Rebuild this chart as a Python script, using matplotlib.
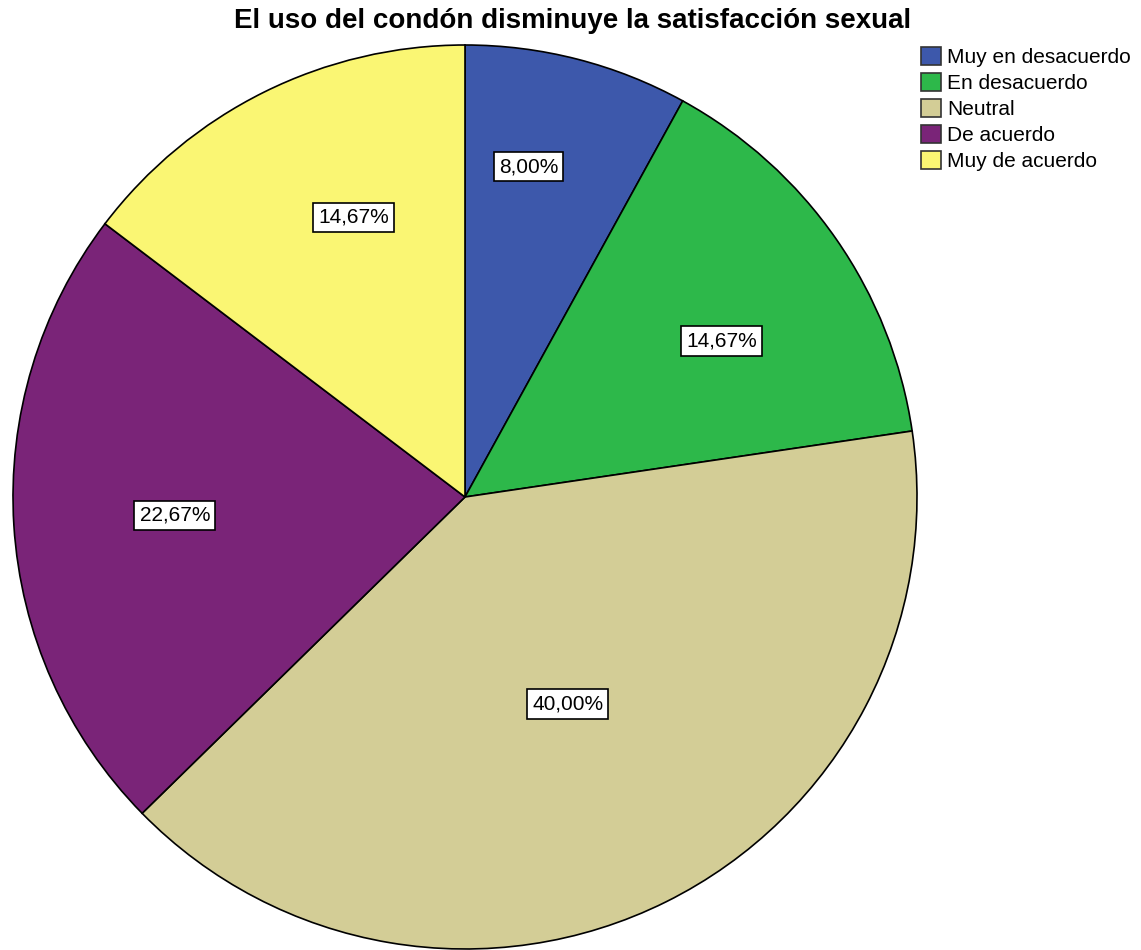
import numpy as np
import matplotlib.pyplot as plt
from matplotlib.patches import Patch

plt.rcParams['font.family'] = ['Liberation Sans', 'DejaVu Sans']

# Respuestas (%)
categorias = ['Muy en desacuerdo', 'En desacuerdo', 'Neutral', 'De acuerdo', 'Muy de acuerdo']
porcentajes = [8.00, 14.67, 40.00, 22.67, 14.67]
colores = ['#3D58AB', '#2DB84A', '#D3CD96', '#7A2478', '#FAF673']

W, H = 1141, 950
fig = plt.figure(figsize=(W / 100, H / 100), dpi=100)
ax = fig.add_axes([0, 0, 1, 1])

cx, cy, r = 465, H - 497, 452
wedges, _ = ax.pie(porcentajes, colors=colores, startangle=90, counterclock=False,
                   center=(cx, cy), radius=r, frame=True,
                   wedgeprops=dict(edgecolor='black', linewidth=1.2))
ax.set_xlim(0, W)
ax.set_ylim(0, H)
ax.set_aspect('equal')
ax.axis('off')

# etiquetas de porcentaje dentro de cada sector
dist = [0.744, 0.665, 0.511, 0.643, 0.666]
giro = [3.5, -3.5, 0.0, 0.0, -4.7]
for w, p, d, g in zip(wedges, porcentajes, dist, giro):
    ang = np.deg2rad((w.theta1 + w.theta2) / 2 + g)
    x = cx + d * r * np.cos(ang)
    y = cy + d * r * np.sin(ang)
    ax.text(x, y, f'{p:.2f}%'.replace('.', ','), ha='center', va='center', fontsize=15,
            bbox=dict(boxstyle='square,pad=0.25', facecolor='white', edgecolor='black', linewidth=1.2))

ax.text(573, H - 28, 'El uso del condón disminuye la satisfacción sexual',
        ha='center', va='baseline', fontsize=20, fontweight='bold')

handles = [Patch(facecolor=c, edgecolor='#333333', linewidth=1.2) for c in colores]
ax.legend(handles, categorias, loc='upper left', bbox_to_anchor=(921 / W, 1 - 47 / H),
          frameon=False, fontsize=15, handlelength=0.95, handleheight=0.95,
          handletextpad=0.3, labelspacing=0.28, borderpad=0, borderaxespad=0)

fig.savefig('out.png', dpi=100)
